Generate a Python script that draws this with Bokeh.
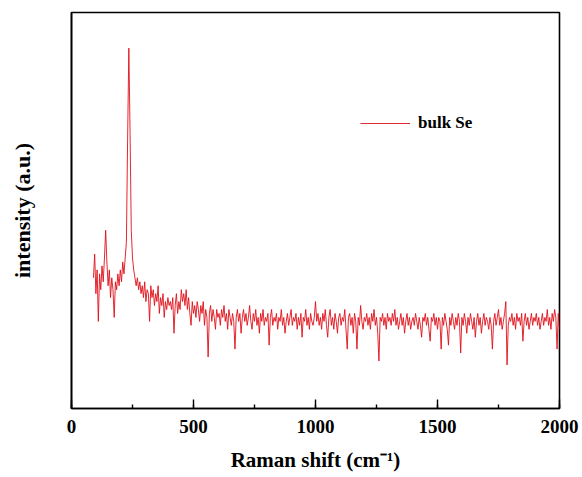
from bokeh.plotting import figure
from bokeh.models import Range1d, SingleIntervalTicker, FixedTicker, Legend, LegendItem, ColumnDataSource
from bokeh.embed import file_html
from bokeh.resources import INLINE

# Raman spectrum sampled every 5 cm-1 starting at 90 cm-1
x_start, x_step = 90, 5

# 90..400 cm-1 (Se bands at ~143 and ~235 cm-1)
seg1_vals = [33, 39, 29, 35, 22, 34, 30, 36, 32, 38,
             45, 37, 31, 35, 28, 33, 30, 23, 32, 30,
             34, 31, 35, 32, 37, 34, 38, 42, 68, 91,
             70, 45, 38, 35, 33, 31, 33, 30, 32, 29,
             31, 28, 32, 27, 30, 29, 22, 31, 28, 30,
             26, 29, 27, 31, 24, 28, 26, 29, 23, 27,
             25, 28, 26]

# 405..2000 cm-1 (one row = 100 cm-1)
seg2_vals = [27, 25, 28, 19, 26, 29, 24, 27, 25, 30, 27, 29, 26, 30, 25, 28, 24, 21, 27, 24,
             26, 23, 27, 25, 22, 26, 24, 27, 21, 25, 23, 13, 24, 26, 22, 25, 23, 20, 25, 23,
             24, 21, 25, 23, 26, 22, 24, 20, 25, 23, 21, 24, 22, 15, 23, 25, 22, 24, 19, 23,
             25, 22, 24, 21, 23, 26, 22, 20, 24, 22, 25, 21, 23, 19, 24, 22, 25, 21, 23, 22,
             24, 16, 23, 25, 21, 23, 22, 24, 20, 23, 22, 25, 21, 23, 19, 22, 24, 21, 23, 25,
             21, 23, 22, 24, 20, 23, 21, 24, 18, 23, 22, 25, 21, 23, 20, 24, 22, 21, 23, 27,
             22, 24, 21, 23, 20, 24, 22, 25, 21, 18, 23, 25, 21, 23, 20, 24, 22, 19, 23, 24,
             21, 23, 22, 25, 20, 15, 23, 24, 21, 23, 19, 24, 22, 15, 23, 21, 26, 22, 20, 23,
             22, 24, 21, 23, 20, 24, 22, 25, 21, 23, 19, 12, 23, 22, 24, 21, 23, 20, 24, 22,
             23, 21, 24, 22, 25, 21, 23, 20, 22, 24, 21, 23, 19, 22, 24, 21, 23, 20, 22, 23,
             21, 24, 22, 20, 23, 21, 18, 23, 22, 24, 21, 23, 20, 17, 23, 22, 24, 21, 23, 20,
             23, 22, 15, 23, 21, 24, 22, 20, 16, 23, 21, 24, 22, 20, 23, 21, 24, 22, 14, 23,
             21, 24, 22, 19, 23, 21, 24, 22, 20, 23, 18, 22, 24, 21, 23, 19, 22, 24, 21, 23,
             22, 20, 23, 21, 15, 22, 24, 21, 23, 25, 21, 23, 20, 22, 24, 27, 11, 21, 23, 22,
             24, 21, 23, 20, 24, 22, 23, 21, 24, 17, 22, 24, 21, 23, 20, 22, 24, 21, 23, 22,
             24, 21, 23, 20, 22, 24, 21, 23, 22, 25, 21, 23, 20, 24, 22, 25, 23, 15, 24, 20]

intensity = seg1_vals + seg2_vals
raman_shift = [x_start + x_step * i for i in range(len(intensity))]

series_name = "bulk Se"
x_title = "Raman shift (cm\u207b\u00b9)"
y_title = "intensity (a.u.)"

FONT = "Liberation Serif"
RED = "#e0101a"

p = figure(width=582, height=477, x_range=Range1d(0, 2000), y_range=Range1d(0, 100),
           output_backend="svg", toolbar_location=None,
           min_border_left=71, min_border_right=23, min_border_top=12, min_border_bottom=69)

src = ColumnDataSource(dict(x=raman_shift, y=intensity))
r = p.line("x", "y", source=src, line_color=RED, line_width=0.9)

p.grid.visible = False
p.outline_line_color = "black"
p.outline_line_width = 1.6
p.background_fill_color = "white"
p.border_fill_color = "white"

xa = p.xaxis[0]
xa.ticker = SingleIntervalTicker(interval=500, num_minor_ticks=2)
xa.major_tick_in = 9
xa.major_tick_out = 0
xa.minor_tick_in = 4
xa.minor_tick_out = 0
xa.axis_line_width = 1.6
xa.major_tick_line_width = 1.4
xa.minor_tick_line_width = 1.4
xa.major_label_text_font = FONT
xa.major_label_text_font_style = "bold"
xa.major_label_text_font_size = "19px"
xa.major_label_text_color = "black"
xa.major_label_standoff = 11
xa.axis_label = x_title
xa.axis_label_text_font = FONT
xa.axis_label_text_font_style = "bold"
xa.axis_label_text_font_size = "21px"
xa.axis_label_text_color = "black"
xa.axis_label_standoff = 12

ya = p.yaxis[0]
ya.ticker = FixedTicker(ticks=[])
ya.major_tick_line_color = None
ya.minor_tick_line_color = None
ya.axis_line_width = 1.6
ya.axis_label = y_title
ya.axis_label_text_font = FONT
ya.axis_label_text_font_style = "bold"
ya.axis_label_text_font_size = "22px"
ya.axis_label_text_color = "black"
ya.axis_label_standoff = 37

legend = Legend(items=[LegendItem(label=series_name, renderers=[r])],
                location=(289, 275), padding=0, margin=0, glyph_width=50, glyph_height=20,
                label_standoff=8, border_line_color=None, background_fill_alpha=0,
                label_text_font=FONT, label_text_font_style="bold", label_text_font_size="17px",
                label_text_color="black", label_height=20)
p.add_layout(legend)

open("out.html", "w").write(file_html(p, INLINE))
